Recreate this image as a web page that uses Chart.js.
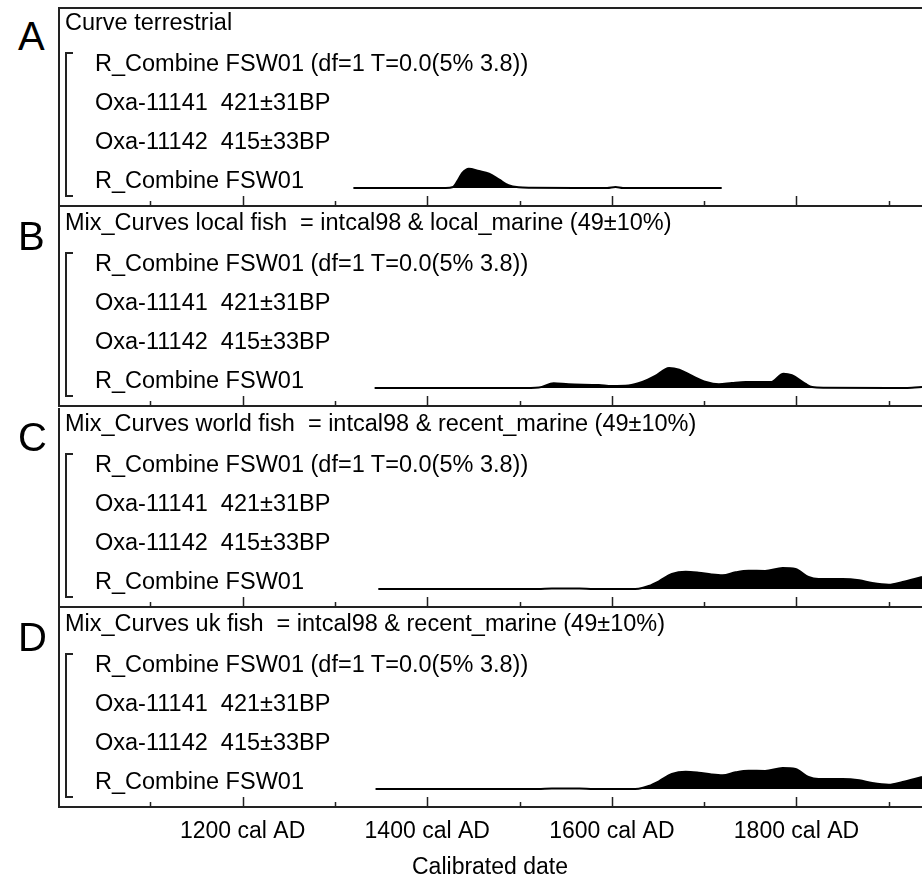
<!DOCTYPE html>
<html>
<head>
<meta charset="utf-8">
<script src="https://cdn.jsdelivr.net/npm/chart.js@4.4.1/dist/chart.umd.min.js"></script>
<style>
  body { margin:0; background:#fff; width:922px; height:880px; overflow:hidden; position:relative;
         font-family:'Liberation Sans', Arial, sans-serif; color:#000; }
  canvas { position:absolute; left:58px; }
  .t  { position:absolute; white-space:pre; font-size:23.5px; line-height:24px; }
  .lt { position:absolute; font-size:40px; line-height:40px; }
  .br { position:absolute; left:65px; width:6px; border:2px solid #222; border-right:none; }
</style>
</head>
<body>
<script>
// OxCal style stacked calibration plots, 4 curve options

const LETTERS = ['A', 'B', 'C', 'D'];
const HEADERS = [
  'Curve terrestrial',
  'Mix_Curves local fish  = intcal98 & local_marine (49±10%)',
  'Mix_Curves world fish  = intcal98 & recent_marine (49±10%)',
  'Mix_Curves uk fish  = intcal98 & recent_marine (49±10%)',
];
const SAMPLES = [
  'R_Combine FSW01 (df=1 T=0.0(5% 3.8))',
  'Oxa-11141  421±31BP',
  'Oxa-11142  415±33BP',
  'R_Combine FSW01',
];

// calibrated date (cal AD) and relative probability
const aYears = [1320, 1420, 1428, 1434, 1438, 1445, 1456, 1467, 1478, 1488, 1499, 1513, 1560, 1595, 1604, 1612, 1719];
const aProb  = [0,    0,    1,    9,    15,   19.3, 17,   14.3, 8.3,  2.7,  0.7,  0.3,  0,    0,    1,    0,    0];

const bYears = [1343, 1500, 1521, 1537, 1553, 1586, 1600, 1618, 1633, 1647, 1662, 1673, 1687, 1702, 1716, 1730, 1745, 1772, 1786, 1795, 1810, 1817, 1831, 1900, 1925, 1936];
const bProb  = [0,    0,    0.5,  4.7,  3.7,  3,    2,    2.5,  6,    12,   20,   18.3, 12,   6,    3.7,  5,    6,    6,    14.3, 12.7, 4,    1,    0.3,  0,    0.3,  1];

const cYears = [1347, 1520, 1535, 1565, 1580, 1620, 1629, 1640, 1651, 1665, 1680, 1694, 1708, 1720, 1734, 1748, 1766, 1785, 1799, 1813, 1824, 1850, 1868, 1882, 1900, 1915, 1936];
const cProb  = [0,    0,    0.5,  0.5,  0,    0,    0.3,  3,    7.7,  15,   17.3, 16.3, 14.5, 13.7, 16.7, 18.3, 18,   21,   20,   12,   10,   10,   8.7,  6,    4.3,  7,    12];

const dYears = [1344, 1520, 1535, 1565, 1580, 1620, 1629, 1640, 1651, 1665, 1680, 1694, 1708, 1720, 1734, 1748, 1766, 1785, 1799, 1813, 1824, 1850, 1868, 1882, 1900, 1915, 1936];
const dProb  = [0,    0,    0.5,  0.5,  0,    0,    0.3,  3,    7.7,  15,   17.3, 16.3, 14.5, 13.7, 16.7, 18.3, 18,   21,   20,   12,   10,   10,   8.7,  6,    4.3,  7,    12];

const TICK_YEARS  = [1100, 1200, 1300, 1400, 1500, 1600, 1700, 1800, 1900];
const LABEL_YEARS = [1200, 1400, 1600, 1800];

const SERIES = [[aYears, aProb], [bYears, bProb], [cYears, cProb], [dYears, dProb]];

Chart.defaults.font.family = "'Liberation Sans', Arial, sans-serif";
Chart.defaults.color = '#000';

const TOPS = [7, 207, 408, 608];

// box + inward ticks
const frame = {
  id: 'frame',
  afterDraw(c, args, opts) {
    const { ctx, chartArea: a } = c;
    const x = c.scales.x;
    ctx.save();
    ctx.strokeStyle = '#222';
    ctx.lineWidth = 2;
    ctx.beginPath();
    if (opts.first) { ctx.moveTo(a.right, a.top + 1); ctx.lineTo(a.left + 1, a.top + 1); }
    else ctx.moveTo(a.left + 1, a.top);
    ctx.lineTo(a.left + 1, a.bottom - 1);
    ctx.lineTo(a.right, a.bottom - 1);
    ctx.stroke();
    ctx.lineWidth = 1.5;
    ctx.beginPath();
    TICK_YEARS.forEach(v => {
      const px = Math.round(x.getPixelForValue(v)) + 0.5;
      const len = v % 200 === 0 ? 10 : 5;
      ctx.moveTo(px, a.bottom - 1);
      ctx.lineTo(px, a.bottom - 1 - len);
    });
    ctx.stroke();
    ctx.restore();
  }
};

function addText(cls, txt, left, top) {
  const d = document.createElement('div');
  d.className = cls;
  d.textContent = txt;
  d.style.left = left + 'px';
  d.style.top = top + 'px';
  document.body.appendChild(d);
}

SERIES.forEach(([yrs, prob], i) => {
  const T = TOPS[i];
  const last = i === SERIES.length - 1;
  const cv = document.createElement('canvas');
  cv.width = 864;
  cv.height = last ? 272 : 200;
  cv.style.top = T + 'px';
  document.body.appendChild(cv);

  const xAxis = { type: 'linear', min: 1000, max: 1936, display: false };
  if (last) Object.assign(xAxis, {
    display: true,
    grid: { display: false, drawTicks: false }, border: { display: false },
    ticks: { padding: 10, color: '#000', font: { size: 23 }, maxRotation: 0, autoSkip: false,
             callback: v => v + ' cal AD' },
    afterBuildTicks: s => { s.ticks = LABEL_YEARS.map(v => ({ value: v })); },
    afterFit: s => { s.height = 72; },
    title: { display: true, text: 'Calibrated date', color: '#000',
             font: { size: 23, lineHeight: 1 }, padding: { top: 0, bottom: 1 } },
  });

  new Chart(cv, {
    type: 'line',
    data: {
      datasets: [{
        data: yrs.map((x, k) => ({ x, y: prob[k] })),
        borderColor: '#000', backgroundColor: '#000', borderWidth: 2,
        pointRadius: 0, fill: 'origin', cubicInterpolationMode: 'monotone',
      }],
    },
    options: {
      responsive: false, animation: false, events: [],
      layout: { padding: 0 },
      plugins: { legend: { display: false }, tooltip: { enabled: false }, frame: { first: i === 0 } },
      scales: {
        x: xAxis,
        y: { min: -19, max: 181, display: false },
      },
    },
    plugins: [frame],
  });

  addText('lt', LETTERS[i], 18, T + 9);
  addText('t', HEADERS[i], 65, T + 3);
  SAMPLES.forEach((s, k) => addText('t', s, 95, T + 44 + k * 39));
  const br = document.createElement('div');
  br.className = 'br';
  br.style.top = (T + 45) + 'px';
  br.style.height = '141px';
  document.body.appendChild(br);
});
</script>
</body>
</html>
